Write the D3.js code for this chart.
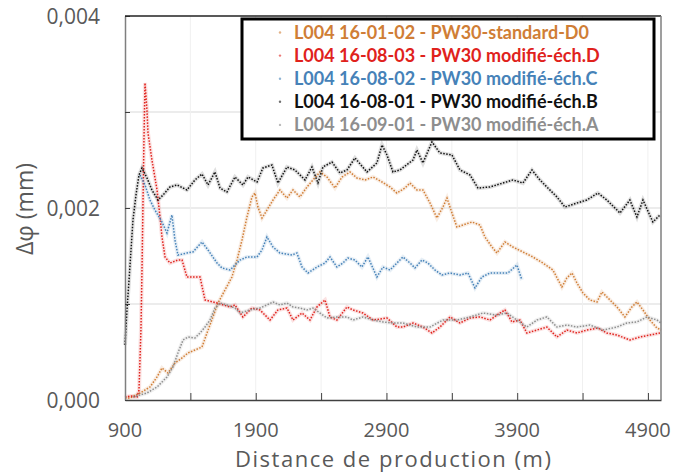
<!DOCTYPE html>
<html>
<head>
<meta charset="utf-8">
<script src="https://cdn.jsdelivr.net/npm/d3@7"></script>
<style>
  body { margin: 0; background: #fff; }
  svg { display: block; }
</style>
</head>
<body>
<div id="chart"></div>
<script>
// series values : [distance (m), delta phi (mm)]
var seriesD0 = [[900,0.000021],[938,0.000021],[1015,0.000073],[1091,0.000135],[1145,0.000240],[1183,0.000333],[1229,0.000281],[1282,0.000385],[1336,0.000438],[1382,0.000490],[1435,0.000521],[1489,0.000552],[1527,0.000698],[1573,0.000865],[1611,0.001010],[1665,0.001146],[1718,0.001281],[1757,0.001458],[1795,0.001667],[1833,0.001906],[1871,0.002115],[1894,0.002156],[1917,0.002010],[1948,0.001896],[1986,0.001979],[2032,0.002083],[2085,0.002188],[2139,0.002104],[2185,0.002188],[2238,0.002115],[2292,0.002219],[2338,0.002292],[2391,0.002375],[2445,0.002323],[2506,0.002208],[2560,0.002323],[2621,0.002375],[2674,0.002313],[2736,0.002292],[2797,0.002323],[2866,0.002271],[2927,0.002219],[2980,0.002156],[3041,0.002208],[3080,0.002260],[3133,0.002188],[3179,0.002188],[3233,0.002052],[3286,0.001896],[3332,0.002010],[3363,0.002104],[3401,0.001948],[3439,0.001802],[3485,0.001823],[3554,0.001854],[3615,0.001823],[3653,0.001698],[3707,0.001594],[3745,0.001531],[3806,0.001646],[3867,0.001594],[3944,0.001542],[4020,0.001490],[4097,0.001427],[4173,0.001354],[4242,0.001177],[4280,0.001271],[4319,0.001323],[4357,0.001219],[4403,0.001115],[4456,0.001042],[4510,0.001021],[4548,0.001125],[4594,0.001063],[4663,0.000969],[4724,0.000865],[4777,0.000969],[4816,0.001021],[4862,0.000938],[4915,0.000833],[4969,0.000750],[5000,0.000729]];

var seriesD = [[900,0.000031],[946,0.000042],[992,0.000031],[1007,0.000104],[1022,0.000729],[1030,0.001354],[1038,0.002083],[1045,0.002708],[1053,0.003302],[1068,0.003021],[1076,0.002781],[1106,0.002500],[1145,0.002188],[1168,0.001906],[1183,0.001698],[1206,0.001490],[1244,0.001427],[1305,0.001458],[1336,0.001458],[1374,0.001281],[1474,0.001281],[1512,0.001042],[1604,0.001010],[1703,0.000969],[1741,0.000990],[1802,0.000865],[1871,0.000958],[1932,0.000938],[2009,0.000833],[2070,0.000938],[2139,0.000958],[2185,0.000833],[2254,0.000906],[2315,0.000833],[2368,0.000969],[2430,0.001042],[2468,0.000865],[2521,0.000833],[2598,0.000969],[2644,0.000938],[2720,0.000906],[2797,0.000833],[2904,0.000854],[2980,0.000760],[3026,0.000760],[3103,0.000802],[3179,0.000760],[3248,0.000698],[3309,0.000760],[3386,0.000865],[3462,0.000802],[3539,0.000854],[3615,0.000865],[3692,0.000833],[3768,0.000906],[3806,0.000938],[3860,0.000813],[3921,0.000833],[3974,0.000698],[4051,0.000729],[4127,0.000760],[4204,0.000656],[4280,0.000729],[4357,0.000698],[4433,0.000729],[4517,0.000750],[4586,0.000698],[4663,0.000677],[4762,0.000625],[4839,0.000656],[4915,0.000677],[4992,0.000698]];

var seriesC = [[1015,0.002344],[1053,0.002240],[1091,0.002083],[1129,0.001979],[1183,0.001854],[1221,0.001740],[1259,0.001927],[1282,0.001667],[1305,0.001510],[1374,0.001531],[1420,0.001542],[1489,0.001646],[1535,0.001563],[1604,0.001427],[1642,0.001375],[1703,0.001354],[1780,0.001458],[1833,0.001490],[1910,0.001490],[1948,0.001563],[1986,0.001698],[2032,0.001594],[2085,0.001531],[2177,0.001510],[2215,0.001531],[2254,0.001385],[2300,0.001323],[2368,0.001385],[2430,0.001427],[2468,0.001490],[2521,0.001385],[2567,0.001427],[2605,0.001479],[2659,0.001458],[2712,0.001385],[2758,0.001490],[2827,0.001281],[2873,0.001385],[2927,0.001354],[2980,0.001427],[3026,0.001490],[3080,0.001427],[3118,0.001375],[3171,0.001458],[3217,0.001427],[3271,0.001354],[3324,0.001302],[3386,0.001323],[3462,0.001302],[3523,0.001323],[3577,0.001167],[3630,0.001281],[3692,0.001323],[3768,0.001323],[3829,0.001323],[3898,0.001406],[3936,0.001250]];

var seriesB = [[900,0.000573],[915,0.000938],[931,0.001250],[946,0.001563],[961,0.001875],[984,0.002135],[1007,0.002344],[1030,0.002417],[1068,0.002313],[1106,0.002188],[1152,0.002083],[1191,0.002135],[1244,0.002219],[1298,0.002240],[1374,0.002188],[1435,0.002292],[1489,0.002354],[1535,0.002240],[1588,0.002375],[1627,0.002208],[1680,0.002167],[1741,0.002323],[1802,0.002240],[1841,0.002323],[1910,0.002271],[1955,0.002417],[2024,0.002448],[2070,0.002260],[2139,0.002427],[2200,0.002396],[2277,0.002292],[2330,0.002427],[2376,0.002260],[2414,0.002427],[2483,0.002479],[2544,0.002365],[2598,0.002396],[2659,0.002521],[2751,0.002375],[2827,0.002469],[2866,0.002656],[2904,0.002552],[2950,0.002375],[3003,0.002396],[3103,0.002500],[3133,0.002604],[3179,0.002469],[3248,0.002688],[3309,0.002573],[3401,0.002552],[3462,0.002396],[3539,0.002344],[3600,0.002208],[3692,0.002219],[3791,0.002260],[3867,0.002292],[3944,0.002260],[4013,0.002396],[4074,0.002292],[4135,0.002208],[4204,0.002115],[4265,0.002010],[4357,0.002052],[4433,0.002083],[4517,0.002156],[4586,0.002083],[4686,0.001948],[4762,0.002083],[4816,0.001906],[4862,0.002083],[4938,0.001854],[4992,0.001927]];

var seriesA = [[961,0.000031],[1068,0.000073],[1145,0.000135],[1221,0.000240],[1267,0.000344],[1305,0.000490],[1344,0.000625],[1382,0.000656],[1435,0.000646],[1474,0.000698],[1512,0.000760],[1550,0.000833],[1588,0.000958],[1627,0.001010],[1680,0.000990],[1741,0.000958],[1780,0.000906],[1856,0.000938],[1932,0.000958],[1986,0.000990],[2032,0.001021],[2085,0.000990],[2139,0.001010],[2185,0.000969],[2238,0.000958],[2292,0.000938],[2338,0.000958],[2391,0.000906],[2445,0.000854],[2521,0.000865],[2598,0.000865],[2644,0.000833],[2720,0.000865],[2797,0.000833],[2873,0.000813],[2950,0.000802],[3026,0.000802],[3133,0.000760],[3233,0.000760],[3332,0.000833],[3439,0.000833],[3539,0.000865],[3638,0.000906],[3745,0.000885],[3822,0.000906],[3898,0.000833],[3974,0.000760],[4051,0.000833],[4127,0.000865],[4204,0.000760],[4280,0.000781],[4357,0.000760],[4456,0.000781],[4556,0.000729],[4663,0.000760],[4739,0.000802],[4816,0.000813],[4892,0.000865],[4969,0.000833],[5000,0.000802]];

var seriesNames = [
    "L004 16-01-02 - PW30-standard-D0",
    "L004 16-08-03 - PW30 modifié-éch.D",
    "L004 16-08-02 - PW30 modifié-éch.C",
    "L004 16-08-01 - PW30 modifié-éch.B",
    "L004 16-09-01 - PW30 modifié-éch.A"
];
var seriesColors = ["#D07E36", "#E0221C", "#4682B8", "#111111", "#8E8E8E"];
var allSeries = [seriesD0, seriesD, seriesC, seriesB, seriesA];

var xTicks = [900, 1400, 1900, 2400, 2900, 3400, 3900, 4400, 4900];
var xLabels = [900, 1900, 2900, 3900, 4900];
var yTicks = [0, 0.001, 0.002, 0.003, 0.004];
var yLabels = [0, 0.002, 0.004];

function init() {
    var w = 675, h = 472;
    var left = 125, right = 661, top = 16, bottom = 400;

    var svg = d3.select("#chart")
        .append("svg")
        .attr("width", w)
        .attr("height", h)
        .style("font-family", "'Open Sans', sans-serif");

    svg.append("rect").attr("width", w).attr("height", h).attr("fill", "#fff");

    var xScale = d3.scaleLinear().domain([900, 5000]).range([left, right]);
    var yScale = d3.scaleLinear().domain([0, 0.004]).range([bottom, top]);

    // grid
    svg.append("g")
        .selectAll("line")
        .data(yTicks.slice(1, 4))
        .enter()
        .append("line")
        .attr("x1", left).attr("x2", right)
        .attr("y1", function (d) { return yScale(d); })
        .attr("y2", function (d) { return yScale(d); })
        .attr("stroke", "#d9d9d9")
        .attr("stroke-width", 1);

    svg.append("g")
        .selectAll("line")
        .data(xTicks.slice(1))
        .enter()
        .append("line")
        .attr("y1", top).attr("y2", bottom)
        .attr("x1", function (d) { return xScale(d); })
        .attr("x2", function (d) { return xScale(d); })
        .attr("stroke", "#f0f0f0")
        .attr("stroke-width", 1);

    // series
    var line = d3.line()
        .x(function (d) { return xScale(d[0]); })
        .y(function (d) { return yScale(d[1]); });

    var plot = svg.append("g");
    allSeries.forEach(function (s, i) {
        plot.append("path")
            .datum(s)
            .attr("d", line)
            .attr("fill", "none")
            .attr("stroke", seriesColors[i])
            .attr("stroke-opacity", 0.13)
            .attr("stroke-width", 4);
        plot.append("path")
            .datum(s)
            .attr("d", line)
            .attr("fill", "none")
            .attr("stroke", seriesColors[i])
            .attr("stroke-width", 1.5)
            .attr("stroke-dasharray", "1.5 1.5");
    });

    // axes
    var xAxis = d3.axisBottom(xScale)
        .tickValues(xTicks)
        .tickSizeInner(-7)
        .tickSizeOuter(0)
        .tickFormat("");
    var gx = svg.append("g")
        .attr("transform", "translate(0," + bottom + ")")
        .call(xAxis);
    gx.select(".domain").attr("stroke", "#404040").attr("stroke-width", 1.5);
    gx.selectAll(".tick line").attr("stroke", "#404040");

    var yAxis = d3.axisLeft(yScale)
        .tickValues(yTicks)
        .tickSizeInner(-5)
        .tickSizeOuter(0)
        .tickFormat("");
    var gy = svg.append("g")
        .attr("transform", "translate(" + left + ",0)")
        .call(yAxis);
    gy.select(".domain").attr("stroke", "#7f7f7f").attr("stroke-width", 1.5);
    gy.selectAll(".tick line").attr("stroke", "#404040");

    // top and right border
    svg.append("line").attr("x1", left).attr("x2", right).attr("y1", top).attr("y2", top)
        .attr("stroke", "#222").attr("stroke-width", 1.5);
    svg.append("line").attr("x1", right).attr("x2", right).attr("y1", top).attr("y2", bottom)
        .attr("stroke", "#7f7f7f").attr("stroke-width", 1.5);

    // tick labels
    var fmt = d3.format(".3f");
    svg.append("g")
        .selectAll("text")
        .data(yLabels)
        .enter()
        .append("text")
        .attr("x", 100)
        .attr("y", function (d) { return yScale(d); })
        .attr("dy", "0.36em")
        .attr("text-anchor", "end")
        .attr("fill", "#595959")
        .style("font-size", "21px")
        .text(function (d) { return fmt(d).replace(".", ","); });

    svg.append("g")
        .selectAll("text")
        .data(xLabels)
        .enter()
        .append("text")
        .attr("x", function (d) { return xScale(d); })
        .attr("y", 437)
        .attr("text-anchor", "middle")
        .attr("fill", "#595959")
        .style("font-size", "20px")
        .text(function (d) { return d; });

    // axis titles
    svg.append("text")
        .attr("x", 393)
        .attr("y", 467)
        .attr("text-anchor", "middle")
        .attr("fill", "#595959")
        .style("font-size", "22px")
        .attr("textLength", 316)
        .attr("lengthAdjust", "spacing")
        .text("Distance de production (m)");

    svg.append("text")
        .attr("transform", "translate(33,209) rotate(-90)")
        .attr("text-anchor", "middle")
        .attr("fill", "#595959")
        .style("font-size", "23px")
        .text("\u0394\u03c6 (mm)");

    // legend
    var legend = svg.append("g");
    legend.append("rect")
        .attr("x", 242).attr("y", 19)
        .attr("width", 412).attr("height", 120)
        .attr("fill", "#fff")
        .attr("stroke", "#000")
        .attr("stroke-width", 3);

    seriesNames.forEach(function (name, i) {
        var y = 38.5 + i * 23.1;
        legend.append("circle")
            .attr("cx", 280).attr("cy", y - 6)
            .attr("r", 1.2)
            .attr("fill", seriesColors[i])
            .attr("opacity", 0.6);
        legend.append("text")
            .attr("x", 294)
            .attr("y", y)
            .attr("fill", seriesColors[i])
            .style("font-family", "Lato, sans-serif")
            .style("font-weight", "bold")
            .style("font-size", "18px")
            .text(name);
    });
}

window.onload = init;
</script>
</body>
</html>
